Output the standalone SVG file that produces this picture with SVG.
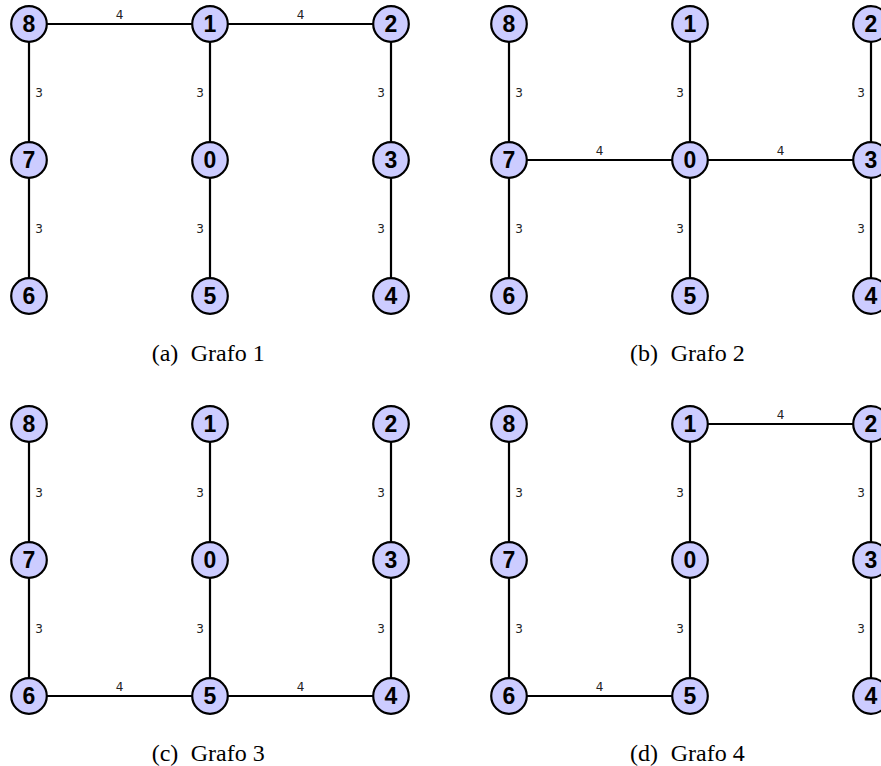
<svg xmlns="http://www.w3.org/2000/svg" width="881" height="766" viewBox="0 0 881 766">
  <style>
    .edge { stroke: #000; stroke-width: 2.2; fill: none; }
    .node circle { fill: #ccccff; stroke: #000; stroke-width: 2.2; }
    .node text { font-family: "Liberation Sans", Arial, sans-serif; font-weight: bold; font-size: 23px; text-anchor: middle; fill: #000; }
    .w { font-family: "DejaVu Sans", "Liberation Sans", sans-serif; font-size: 12px; fill: #222; text-anchor: middle; }
    .cap { font-family: "Liberation Serif", "Times New Roman", serif; font-size: 24px; fill: #000; }
  </style>
  <rect width="881" height="766" fill="#fff"/>

  <!-- connectors: panel (a) -->
  <g id="edges-a">
    <line class="edge" x1="29" y1="24" x2="210" y2="24"/>
    <line class="edge" x1="210" y1="24" x2="391" y2="24"/>
    <line class="edge" x1="29" y1="24" x2="29" y2="296"/>
    <line class="edge" x1="210" y1="24" x2="210" y2="296"/>
    <line class="edge" x1="391" y1="24" x2="391" y2="296"/>
    <text class="w" x="119.5" y="18.5">4</text>
    <text class="w" x="300.5" y="18.5">4</text>
    <text class="w" x="39" y="97">3</text>
    <text class="w" x="39" y="233">3</text>
    <text class="w" x="200" y="97">3</text>
    <text class="w" x="200" y="233">3</text>
    <text class="w" x="381" y="97">3</text>
    <text class="w" x="381" y="233">3</text>
  </g>

  <!-- connectors: panel (b) -->
  <g id="edges-b">
    <line class="edge" x1="509" y1="160" x2="690" y2="160"/>
    <line class="edge" x1="690" y1="160" x2="871" y2="160"/>
    <line class="edge" x1="509" y1="24" x2="509" y2="296"/>
    <line class="edge" x1="690" y1="24" x2="690" y2="296"/>
    <line class="edge" x1="871" y1="24" x2="871" y2="296"/>
    <text class="w" x="599.5" y="154.5">4</text>
    <text class="w" x="780.5" y="154.5">4</text>
    <text class="w" x="519" y="97">3</text>
    <text class="w" x="519" y="233">3</text>
    <text class="w" x="680" y="97">3</text>
    <text class="w" x="680" y="233">3</text>
    <text class="w" x="861" y="97">3</text>
    <text class="w" x="861" y="233">3</text>
  </g>

  <!-- connectors: panel (c) -->
  <g id="edges-c">
    <line class="edge" x1="29" y1="696" x2="210" y2="696"/>
    <line class="edge" x1="210" y1="696" x2="391" y2="696"/>
    <line class="edge" x1="29" y1="424" x2="29" y2="696"/>
    <line class="edge" x1="210" y1="424" x2="210" y2="696"/>
    <line class="edge" x1="391" y1="424" x2="391" y2="696"/>
    <text class="w" x="119.5" y="690.5">4</text>
    <text class="w" x="300.5" y="690.5">4</text>
    <text class="w" x="39" y="497">3</text>
    <text class="w" x="39" y="633">3</text>
    <text class="w" x="200" y="497">3</text>
    <text class="w" x="200" y="633">3</text>
    <text class="w" x="381" y="497">3</text>
    <text class="w" x="381" y="633">3</text>
  </g>

  <!-- connectors: panel (d) -->
  <g id="edges-d">
    <line class="edge" x1="690" y1="424" x2="871" y2="424"/>
    <line class="edge" x1="509" y1="696" x2="690" y2="696"/>
    <line class="edge" x1="509" y1="424" x2="509" y2="696"/>
    <line class="edge" x1="690" y1="424" x2="690" y2="696"/>
    <line class="edge" x1="871" y1="424" x2="871" y2="696"/>
    <text class="w" x="780.5" y="418.5">4</text>
    <text class="w" x="599.5" y="690.5">4</text>
    <text class="w" x="519" y="497">3</text>
    <text class="w" x="519" y="633">3</text>
    <text class="w" x="680" y="497">3</text>
    <text class="w" x="680" y="633">3</text>
    <text class="w" x="861" y="497">3</text>
    <text class="w" x="861" y="633">3</text>
  </g>

  <!-- nodes: panel (a) -->
  <g id="a8" class="node"><circle cx="29" cy="24" r="17.8"/><text x="29" y="32">8</text></g>
  <g id="a1" class="node"><circle cx="210" cy="24" r="17.8"/><text x="210" y="32">1</text></g>
  <g id="a2" class="node"><circle cx="391" cy="24" r="17.8"/><text x="391" y="32">2</text></g>
  <g id="a7" class="node"><circle cx="29" cy="160" r="17.8"/><text x="29" y="168">7</text></g>
  <g id="a0" class="node"><circle cx="210" cy="160" r="17.8"/><text x="210" y="168">0</text></g>
  <g id="a3" class="node"><circle cx="391" cy="160" r="17.8"/><text x="391" y="168">3</text></g>
  <g id="a6" class="node"><circle cx="29" cy="296" r="17.8"/><text x="29" y="304">6</text></g>
  <g id="a5" class="node"><circle cx="210" cy="296" r="17.8"/><text x="210" y="304">5</text></g>
  <g id="a4" class="node"><circle cx="391" cy="296" r="17.8"/><text x="391" y="304">4</text></g>

  <!-- nodes: panel (b) -->
  <g id="b8" class="node"><circle cx="509" cy="24" r="17.8"/><text x="509" y="32">8</text></g>
  <g id="b1" class="node"><circle cx="690" cy="24" r="17.8"/><text x="690" y="32">1</text></g>
  <g id="b2" class="node"><circle cx="871" cy="24" r="17.8"/><text x="871" y="32">2</text></g>
  <g id="b7" class="node"><circle cx="509" cy="160" r="17.8"/><text x="509" y="168">7</text></g>
  <g id="b0" class="node"><circle cx="690" cy="160" r="17.8"/><text x="690" y="168">0</text></g>
  <g id="b3" class="node"><circle cx="871" cy="160" r="17.8"/><text x="871" y="168">3</text></g>
  <g id="b6" class="node"><circle cx="509" cy="296" r="17.8"/><text x="509" y="304">6</text></g>
  <g id="b5" class="node"><circle cx="690" cy="296" r="17.8"/><text x="690" y="304">5</text></g>
  <g id="b4" class="node"><circle cx="871" cy="296" r="17.8"/><text x="871" y="304">4</text></g>

  <!-- nodes: panel (c) -->
  <g id="c8" class="node"><circle cx="29" cy="424" r="17.8"/><text x="29" y="432">8</text></g>
  <g id="c1" class="node"><circle cx="210" cy="424" r="17.8"/><text x="210" y="432">1</text></g>
  <g id="c2" class="node"><circle cx="391" cy="424" r="17.8"/><text x="391" y="432">2</text></g>
  <g id="c7" class="node"><circle cx="29" cy="560" r="17.8"/><text x="29" y="568">7</text></g>
  <g id="c0" class="node"><circle cx="210" cy="560" r="17.8"/><text x="210" y="568">0</text></g>
  <g id="c3" class="node"><circle cx="391" cy="560" r="17.8"/><text x="391" y="568">3</text></g>
  <g id="c6" class="node"><circle cx="29" cy="696" r="17.8"/><text x="29" y="704">6</text></g>
  <g id="c5" class="node"><circle cx="210" cy="696" r="17.8"/><text x="210" y="704">5</text></g>
  <g id="c4" class="node"><circle cx="391" cy="696" r="17.8"/><text x="391" y="704">4</text></g>

  <!-- nodes: panel (d) -->
  <g id="d8" class="node"><circle cx="509" cy="424" r="17.8"/><text x="509" y="432">8</text></g>
  <g id="d1" class="node"><circle cx="690" cy="424" r="17.8"/><text x="690" y="432">1</text></g>
  <g id="d2" class="node"><circle cx="871" cy="424" r="17.8"/><text x="871" y="432">2</text></g>
  <g id="d7" class="node"><circle cx="509" cy="560" r="17.8"/><text x="509" y="568">7</text></g>
  <g id="d0" class="node"><circle cx="690" cy="560" r="17.8"/><text x="690" y="568">0</text></g>
  <g id="d3" class="node"><circle cx="871" cy="560" r="17.8"/><text x="871" y="568">3</text></g>
  <g id="d6" class="node"><circle cx="509" cy="696" r="17.8"/><text x="509" y="704">6</text></g>
  <g id="d5" class="node"><circle cx="690" cy="696" r="17.8"/><text x="690" y="704">5</text></g>
  <g id="d4" class="node"><circle cx="871" cy="696" r="17.8"/><text x="871" y="704">4</text></g>

  <!-- captions -->
  <g id="captions">
    <text class="cap" x="151.7" y="361">(a)</text><text class="cap" x="190.7" y="361">Grafo 1</text>
    <text class="cap" x="630" y="361">(b)</text><text class="cap" x="670.7" y="361">Grafo 2</text>
    <text class="cap" x="151.7" y="761">(c)</text><text class="cap" x="190.7" y="761">Grafo 3</text>
    <text class="cap" x="630" y="761">(d)</text><text class="cap" x="670.7" y="761">Grafo 4</text>
  </g>
</svg>
